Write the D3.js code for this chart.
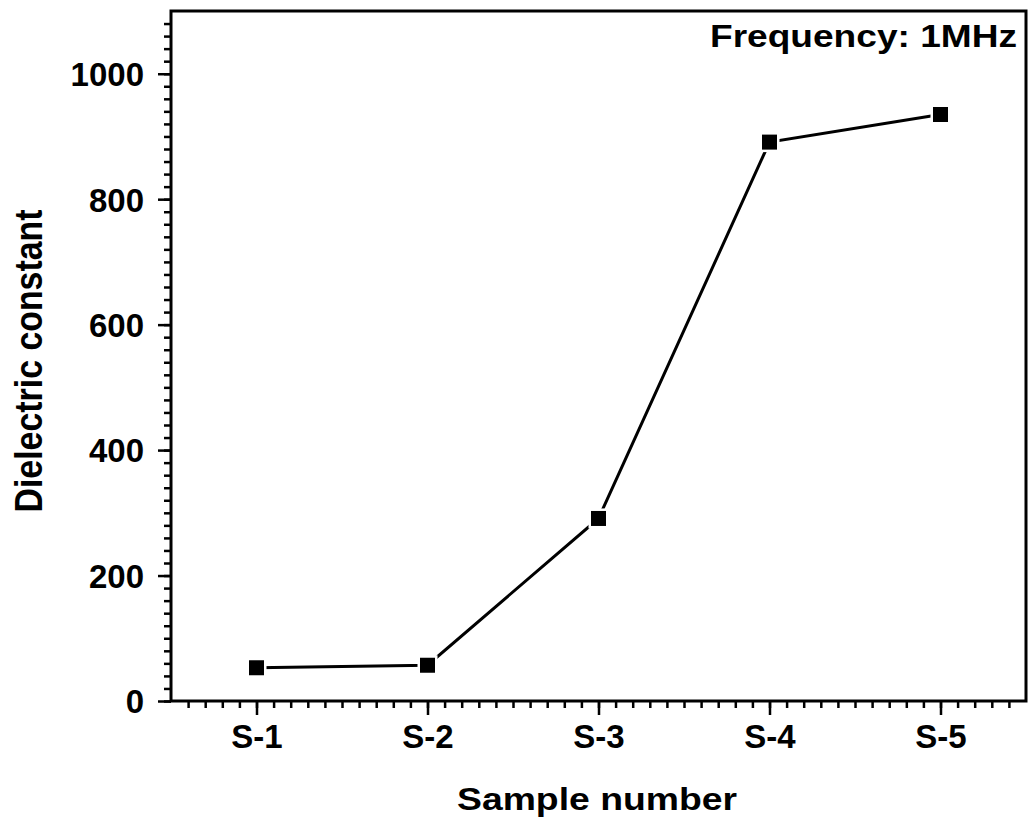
<!DOCTYPE html>
<html>
<head>
<meta charset="utf-8">
<script src="https://cdn.jsdelivr.net/npm/d3@7"></script>
<style>
    body { margin: 0; background: #fff; }
    svg { display: block; font-family: "Liberation Sans", Arial, sans-serif; font-weight: bold; }
</style>
</head>
<body>
<div class="graph"></div>
<script>
// data
const samples = ['S-1', 'S-2', 'S-3', 'S-4', 'S-5'];
const dielectric = [53, 57, 291, 891, 935];
const yTicks = [0, 200, 400, 600, 800, 1000];

const svgDim = { w: 1028, h: 821 };
const plot = { left: 171, right: 1026, top: 11, bottom: 701 };

const svg = d3.select('.graph').append('svg')
    .attr('width', svgDim.w).attr('height', svgDim.h);

// sample index 1..5, half a step of padding either side
const xScale = d3.scaleLinear().domain([0.5, 5.5]).range([plot.left, plot.right]);
const yScale = d3.scaleLinear().domain([0, 1100]).range([plot.bottom, plot.top]);

// minor ticks
const xMinor = d3.range(6, 55).map(d => d / 10);
const yMinor = d3.range(0, 1100, 20);

svg.append('g')
    .attr('transform', `translate(0,${plot.bottom})`)
    .call(d3.axisBottom(xScale).tickValues(xMinor).tickSize(7).tickFormat(''))
    .call(g => g.select('.domain').remove())
    .call(g => g.selectAll('line').attr('stroke-width', 2.5));

svg.append('g')
    .attr('transform', `translate(${plot.left},0)`)
    .call(d3.axisLeft(yScale).tickValues(yMinor).tickSize(7).tickFormat(''))
    .call(g => g.select('.domain').remove())
    .call(g => g.selectAll('line').attr('stroke-width', 2.5));

// major ticks + labels
svg.append('g')
    .attr('transform', `translate(0,${plot.bottom})`)
    .call(d3.axisBottom(xScale).tickValues([1, 2, 3, 4, 5]).tickSize(14).tickPadding(10)
        .tickFormat((d, i) => samples[i]))
    .call(g => g.select('.domain').remove())
    .call(g => g.selectAll('line').attr('stroke-width', 2.5))
    .call(g => g.selectAll('text').style('font-size', '33px').attr('fill', '#000'));

svg.append('g')
    .attr('transform', `translate(${plot.left},0)`)
    .call(d3.axisLeft(yScale).tickValues(yTicks).tickSize(13).tickPadding(14).tickFormat(d3.format('d')))
    .call(g => g.select('.domain').remove())
    .call(g => g.selectAll('line').attr('stroke-width', 2.5))
    .call(g => g.selectAll('text').style('font-size', '33px').attr('fill', '#000')
        .attr('dy', '0.36em'));

svg.selectAll('g').attr('font-family', null);

// frame
svg.append('rect')
    .attr('x', plot.left).attr('y', plot.top)
    .attr('width', plot.right - plot.left).attr('height', plot.bottom - plot.top)
    .attr('fill', 'none').attr('stroke', '#000').attr('stroke-width', 3);

// line + markers
const pts = dielectric.map((v, i) => [xScale(i + 1), yScale(v)]);
svg.append('path')
    .attr('d', d3.line()(pts))
    .attr('fill', 'none').attr('stroke', '#000').attr('stroke-width', 3);

svg.selectAll('.halo').data(pts).enter().append('rect')
    .attr('x', d => d[0] - 10).attr('y', d => d[1] - 10)
    .attr('width', 20).attr('height', 20).attr('fill', '#fff');

svg.selectAll('.mark').data(pts).enter().append('rect')
    .attr('x', d => d[0] - 7.5).attr('y', d => d[1] - 7.5)
    .attr('width', 15).attr('height', 15).attr('fill', '#000');

// titles
svg.append('text')
    .attr('x', 597).attr('y', 810)
    .attr('text-anchor', 'middle').attr('font-size', 31)
    .attr('textLength', 280).attr('lengthAdjust', 'spacingAndGlyphs')
    .text('Sample number');

svg.append('text')
    .attr('transform', 'translate(42,361) rotate(-90)')
    .attr('text-anchor', 'middle').attr('font-size', 39)
    .attr('textLength', 303).attr('lengthAdjust', 'spacingAndGlyphs')
    .text('Dielectric constant');

svg.append('text')
    .attr('x', 710).attr('y', 47)
    .attr('font-size', 31)
    .attr('textLength', 307).attr('lengthAdjust', 'spacingAndGlyphs')
    .text('Frequency: 1MHz');
</script>
</body>
</html>
